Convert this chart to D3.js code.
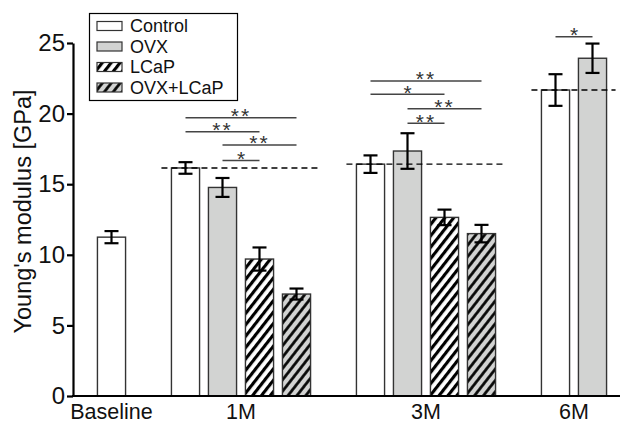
<!DOCTYPE html>
<html>
<head>
<meta charset="utf-8">
<script src="https://cdn.jsdelivr.net/npm/d3@7"></script>
<style>
  body { margin: 0; background: #fff; }
  svg { display: block; font-family: "Liberation Sans", Arial, sans-serif; }
</style>
</head>
<body>
<div id="chart"></div>
<script>
// time points and treatment groups
const groups = ["Baseline", "1M", "3M", "6M"];
const series = ["Control", "OVX", "LCaP", "OVX+LCaP"];

// Young's modulus means and error (GPa), one entry per time point, null = not measured
const controlMean = [11.25, 16.15, 16.42, 21.67];
const controlErr  = [0.43, 0.41, 0.62, 1.12];
const ovxMean     = [null, 14.77, 17.35, 23.92];
const ovxErr      = [null, 0.67, 1.26, 1.04];
const lcapMean    = [null, 9.7, 12.65, null];
const lcapErr     = [null, 0.82, 0.55, null];
const comboMean   = [null, 7.22, 11.5, null];
const comboErr    = [null, 0.39, 0.62, null];

// significance brackets
const sigGroup = ["1M", "1M", "1M", "1M", "3M", "3M", "3M", "3M", "6M"];
const sigFrom  = ["Control", "Control", "OVX", "OVX", "Control", "Control", "OVX", "OVX", "Control"];
const sigTo    = ["OVX+LCaP", "LCaP", "OVX+LCaP", "LCaP", "OVX+LCaP", "LCaP", "OVX+LCaP", "LCaP", "OVX"];
const sigText  = ["**", "**", "**", "*", "**", "*", "**", "**", "*"];
const sigLevel = [19.7, 18.72, 17.78, 16.68, 22.31, 21.37, 20.35, 19.31, 25.45];

const yTicks = [0, 5, 10, 15, 20, 25];

const width = 624, height = 425;
const means = [controlMean, ovxMean, lcapMean, comboMean];
const errs = [controlErr, ovxErr, lcapErr, comboErr];

// flatten to bars, with an empty slot between time points
const bars = [];
const slots = [];
groups.forEach((g, gi) => {
  if (gi > 0) slots.push("gap" + gi);
  series.forEach((s, si) => {
    const v = means[si][gi];
    if (v == null) return;
    slots.push(g + "|" + s);
    bars.push({group: g, series: s, value: v, err: errs[si][gi]});
  });
});

const x = d3.scaleBand().domain(slots).range([93, 611]).paddingInner(0.24).paddingOuter(0.12);
const y = d3.scaleLinear().domain([0, 25]).range([396, 43]);
const cx = (g, s) => x(g + "|" + s) + x.bandwidth() / 2;

const svg = d3.select("#chart").append("svg")
  .attr("width", width)
  .attr("height", height)
  .attr("viewBox", [0, 0, width, height]);

const defs = svg.append("defs");
function hatch(id, bg, sw) {
  const p = defs.append("pattern")
    .attr("id", id)
    .attr("patternUnits", "userSpaceOnUse")
    .attr("width", 7).attr("height", 7)
    .attr("patternTransform", "rotate(38)");
  p.append("rect").attr("width", 7).attr("height", 7).attr("fill", bg);
  p.append("line").attr("x1", 1.5).attr("y1", 0).attr("x2", 1.5).attr("y2", 7)
    .attr("stroke", "#000").attr("stroke-width", sw);
}
hatch("hatchW", "#fff", 3.3);
hatch("hatchG", "#d2d3d2", 2.7);

const fill = {
  "Control": "#fff",
  "OVX": "#d2d3d2",
  "LCaP": "url(#hatchW)",
  "OVX+LCaP": "url(#hatchG)"
};

// bars
svg.append("g")
  .selectAll("rect")
  .data(bars)
  .join("rect")
    .attr("x", d => x(d.group + "|" + d.series))
    .attr("y", d => y(d.value))
    .attr("width", x.bandwidth())
    .attr("height", d => y(0) - y(d.value))
    .attr("fill", d => fill[d.series])
    .attr("stroke", "#333")
    .attr("stroke-width", 1.4);

// dashed reference line at the control mean of each treated time point
const refs = groups.slice(1).map(g => {
  const gb = bars.filter(b => b.group === g);
  return {
    x0: x(g + "|" + gb[0].series) - 10,
    x1: x(g + "|" + gb[gb.length - 1].series) + x.bandwidth() + 9,
    v: gb.find(b => b.series === "Control").value
  };
});
svg.append("g")
  .selectAll("line")
  .data(refs)
  .join("line")
    .attr("x1", d => d.x0).attr("x2", d => d.x1)
    .attr("y1", d => y(d.v)).attr("y2", d => y(d.v))
    .attr("stroke", "#000")
    .attr("stroke-width", 1.4)
    .attr("stroke-dasharray", "6,4");

// error bars
const eb = svg.append("g").attr("stroke", "#000").attr("stroke-width", 2.2);
bars.forEach(d => {
  const c = cx(d.group, d.series);
  eb.append("line").attr("x1", c).attr("x2", c).attr("y1", y(d.value + d.err)).attr("y2", y(d.value - d.err));
  eb.append("line").attr("x1", c - 7).attr("x2", c + 7).attr("y1", y(d.value + d.err)).attr("y2", y(d.value + d.err));
  eb.append("line").attr("x1", c - 7).attr("x2", c + 7).attr("y1", y(d.value - d.err)).attr("y2", y(d.value - d.err));
});

// significance brackets
const sig = svg.append("g");
sigGroup.forEach((g, i) => {
  const a = cx(g, sigFrom[i]), b = cx(g, sigTo[i]);
  const yy = y(sigLevel[i]);
  sig.append("line")
    .attr("x1", a).attr("x2", b).attr("y1", yy).attr("y2", yy)
    .attr("stroke", "#444").attr("stroke-width", 1.5);
  sig.append("text")
    .attr("x", (a + b) / 2)
    .attr("y", yy + 5.5)
    .attr("text-anchor", "middle")
    .attr("font-size", 21)
    .attr("letter-spacing", sigText[i].length > 1 ? 2 : 0)
    .attr("fill", "#333")
    .text(sigText[i]);
});

// y axis
const yAxis = svg.append("g")
  .attr("transform", `translate(73,0)`)
  .call(d3.axisLeft(y).tickValues(yTicks).tickSize(6).tickSizeOuter(0).tickPadding(2));
yAxis.select(".domain").attr("stroke", "#000").attr("stroke-width", 2.2);
yAxis.selectAll(".tick line").attr("stroke", "#000").attr("stroke-width", 2.2);
yAxis.selectAll(".tick text")
  .attr("font-size", 24)
  .attr("font-family", "'Liberation Sans', Arial, sans-serif")
  .attr("fill", "#111");

svg.append("text")
  .attr("transform", `translate(31,${(y(0) + y(25)) / 2 - 8}) rotate(-90)`)
  .attr("text-anchor", "middle")
  .attr("font-size", 23.5)
  .attr("fill", "#111")
  .text("Young's modulus [GPa]");

// x axis baseline and time-point labels
svg.append("line")
  .attr("x1", 72).attr("x2", 620)
  .attr("y1", y(0)).attr("y2", y(0))
  .attr("stroke", "#000").attr("stroke-width", 2.2);

svg.append("g")
  .selectAll("text")
  .data(groups)
  .join("text")
    .attr("x", g => d3.mean(bars.filter(b => b.group === g), b => cx(b.group, b.series)))
    .attr("y", 419)
    .attr("text-anchor", "middle")
    .attr("font-size", 21.5)
    .attr("fill", "#111")
    .text(g => g);

// legend
const legend = svg.append("g");
legend.append("rect")
  .attr("x", 89.5).attr("y", 13.5)
  .attr("width", 148).attr("height", 87)
  .attr("fill", "#fff").attr("stroke", "#000").attr("stroke-width", 1.2);
const item = legend.selectAll("g")
  .data(series)
  .join("g")
    .attr("transform", (d, i) => `translate(97,${26 + i * 20.5})`);
item.append("rect")
  .attr("x", 0).attr("y", -4.5)
  .attr("width", 25).attr("height", 9)
  .attr("fill", d => fill[d])
  .attr("stroke", "#333").attr("stroke-width", 1.2);
item.append("text")
  .attr("x", 33).attr("y", 0)
  .attr("dy", "0.36em")
  .attr("font-size", 18)
  .attr("fill", "#111")
  .text(d => d);
</script>
</body>
</html>
